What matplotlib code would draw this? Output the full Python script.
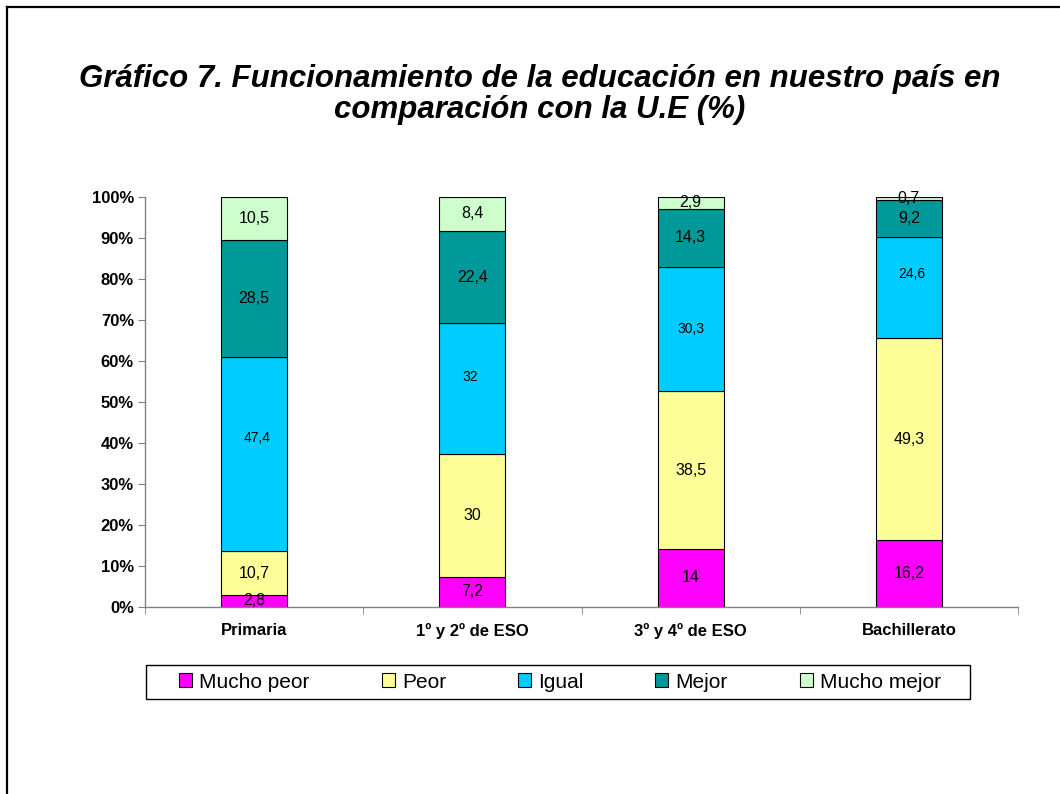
import matplotlib
matplotlib.use("Agg")
import matplotlib.pyplot as plt
from matplotlib.lines import Line2D
from matplotlib.patches import Rectangle
import numpy as np

plt.rcParams['font.family'] = ['Liberation Sans', 'DejaVu Sans']

categories = ["Primaria", "1º y 2º de ESO", "3º y 4º de ESO", "Bachillerato"]
series_names = ["Mucho peor", "Peor", "Igual", "Mejor", "Mucho mejor"]
mucho_peor = [2.8, 7.2, 14, 16.2]
peor = [10.7, 30, 38.5, 49.3]
igual = [47.4, 32, 30.3, 24.6]
mejor = [28.5, 22.4, 14.3, 9.2]
mucho_mejor = [10.5, 8.4, 2.9, 0.7]
y_tick_labels = ["0%", "10%", "20%", "30%", "40%", "50%", "60%", "70%", "80%", "90%", "100%"]
title = "Gráfico 7. Funcionamiento de la educación en nuestro país en\ncomparación con la U.E (%)"

colors = ["#FF00FF", "#FFFF99", "#00CCFF", "#009999", "#CCFFCC"]
series = [mucho_peor, peor, igual, mejor, mucho_mejor]

# manual label nudges (points) as in the original chart, keyed by (series, category)
label_nudge = {(2, 0): (2, 11.5), (2, 1): (-1.5, 8.6), (2, 3): (2, 10)}

W, H = 1060, 794
fig = plt.figure(figsize=(W / 100, H / 100), dpi=100)
ax = fig.add_axes([145 / W, 1 - 606.7 / H, (1018 - 145) / W, (606.7 - 196.7) / H])

x = np.arange(len(categories))
totals = np.sum(np.array(series, dtype=float), axis=0)
bottom = np.zeros(len(categories))
handles = []
for si, (name, vals, col) in enumerate(zip(series_names, series, colors)):
    pct = np.array(vals, dtype=float) / totals * 100
    bc = ax.bar(x, pct, 0.302, bottom=bottom, color=col, edgecolor="black",
                linewidth=0.8, label=name, zorder=2)
    handles.append(bc)
    for ci, v in enumerate(vals):
        cy = bottom[ci] + pct[ci] / 2
        txt = (str(int(v)) if float(v).is_integer() else f"{v}".replace(".", ","))
        fs = 10 if si == 2 else 11.5
        dx, dy = label_nudge.get((si, ci), (0, 0))
        ax.annotate(txt, (x[ci], cy), xytext=(dx, dy), textcoords="offset points",
                    ha="center", va="center", fontsize=fs, color="black", zorder=5)
    bottom += pct

ax.set_xlim(-0.5, len(categories) - 0.5)
ax.set_ylim(0, 100)
ax.set_yticks(np.arange(0, 101, 10))
ax.set_yticklabels(y_tick_labels, fontsize=12, fontweight="bold")
ax.set_xticks(x)
ax.set_xticklabels(categories, fontsize=12, fontweight="bold")
ax.set_xticks(np.arange(-0.5, len(categories), 1.0), minor=True)
ax.tick_params(axis="x", which="major", length=0, pad=12)
ax.tick_params(axis="x", which="minor", length=5, color="#808080", direction="out")
ax.tick_params(axis="y", which="major", length=5, color="#808080", direction="out", pad=3)
for s in ["top", "right"]:
    ax.spines[s].set_visible(False)
for s in ["left", "bottom"]:
    ax.spines[s].set_color("#808080")
    ax.spines[s].set_linewidth(1.0)

# title: two lines, drawn at their own baselines
t_lines = title.split("\n")
t_baselines = [87, 118]
for line, yb in zip(t_lines, t_baselines):
    fig.text(540 / W, 1 - yb / H, line, ha="center", va="baseline", fontsize=22.5,
             fontweight="bold", fontstyle="italic")

# legend frame and content
fig.add_artist(Rectangle((146 / W, 1 - 699 / H), 824 / W, 34 / H, transform=fig.transFigure,
                         facecolor="white", edgecolor="black", linewidth=1.0, zorder=1))
leg = fig.legend(handles, series_names, loc="center",
                 bbox_to_anchor=(560 / W, 1 - 682 / H), bbox_transform=fig.transFigure,
                 ncol=5, fontsize=15, frameon=False, handlelength=0.62,
                 handleheight=0.62, handletextpad=0.35, columnspacing=3.45,
                 borderpad=0.0, borderaxespad=0)
leg.set_zorder(3)
for h in leg.legend_handles:
    h.set_linewidth(0.8)

fig.add_artist(Line2D([7 / W, 7 / W], [0, 1 - 7 / H], transform=fig.transFigure,
                      color="black", linewidth=1.6))
fig.add_artist(Line2D([7 / W, 1], [1 - 7 / H, 1 - 7 / H], transform=fig.transFigure,
                      color="black", linewidth=1.6))

fig.savefig("out.png", dpi=100)
